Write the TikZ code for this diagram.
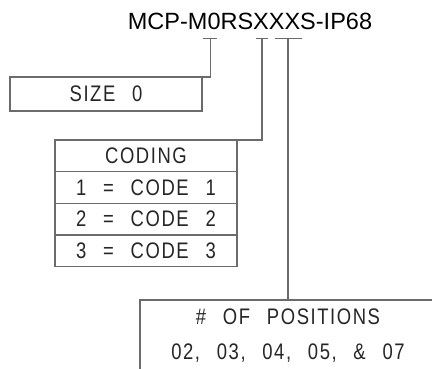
\documentclass[tikz,border=0pt]{standalone}
\usepackage{fontspec}
\setmainfont{Liberation Sans}
\newfontfamily\cadfont[FakeStretch=0.82,WordSpace=2.5,LetterSpace=7]{Liberation Sans}
\usetikzlibrary{positioning}
\definecolor{linegray}{gray}{0.42}

\begin{document}
\begin{tikzpicture}[x=1pt,y=-1pt]
      \useasboundingbox (0,0) rectangle (432,369);
      \clip (0,0) rectangle (432,369);

      \node (title) at (250,21.5) {\fontsize{23.5}{28}\selectfont MCP-M0RSXXXS-IP68};

      % tick marks under the part number
      \coordinate (t1l) at (203,38.5);
      \coordinate (t1)  at (210.5,38.5);
      \coordinate (t1r) at (217,38.5);
      \coordinate (t2l) at (256,38.5);
      \coordinate (t2)  at (262,38.5);
      \coordinate (t2r) at (268,38.5);
      \coordinate (t3l) at (275,38.5);
      \coordinate (t3)  at (288,38.5);
      \coordinate (t3r) at (302,38.5);

      \begin{scope}[every node/.style={draw=linegray, line width=1.2pt, outer sep=0pt, inner sep=0pt,
          font=\cadfont\fontsize{22.5}{35}\selectfont, text=black!85}]
        \node (size) [minimum width=192pt, minimum height=34pt] at (106,94) {SIZE 0};

        \node (cod)  [minimum width=182pt, minimum height=31.7pt] at (146,155.85) {CODING};
        \node (cod1) [minimum width=182pt, minimum height=31.7pt, below=0pt of cod]  {1 = CODE 1};
        \node (cod2) [minimum width=182pt, minimum height=31.7pt, below=0pt of cod1] {2 = CODE 2};
        \node (cod3) [minimum width=182pt, minimum height=31.7pt, below=0pt of cod2] {3 = CODE 3};

        \node (pos)  [anchor=north, minimum width=296pt, inner ysep=9pt, align=center] at (288,300)
          {\# OF POSITIONS\\02, 03, 04, 05, \& 07};
      \end{scope}

      \begin{scope}[every path/.style={draw=linegray, line width=1.2pt}]
        \path (t1l) -- (t1r);
        \path (t2l) -- (t2r);
        \path (t3l) -- (t3r);
        \path (t1) |- (size.north east);
        \path (t2) |- (cod.north east);
        \path (t3) -- (t3 |- pos.north);
      \end{scope}

    \end{tikzpicture}
\end{document}
